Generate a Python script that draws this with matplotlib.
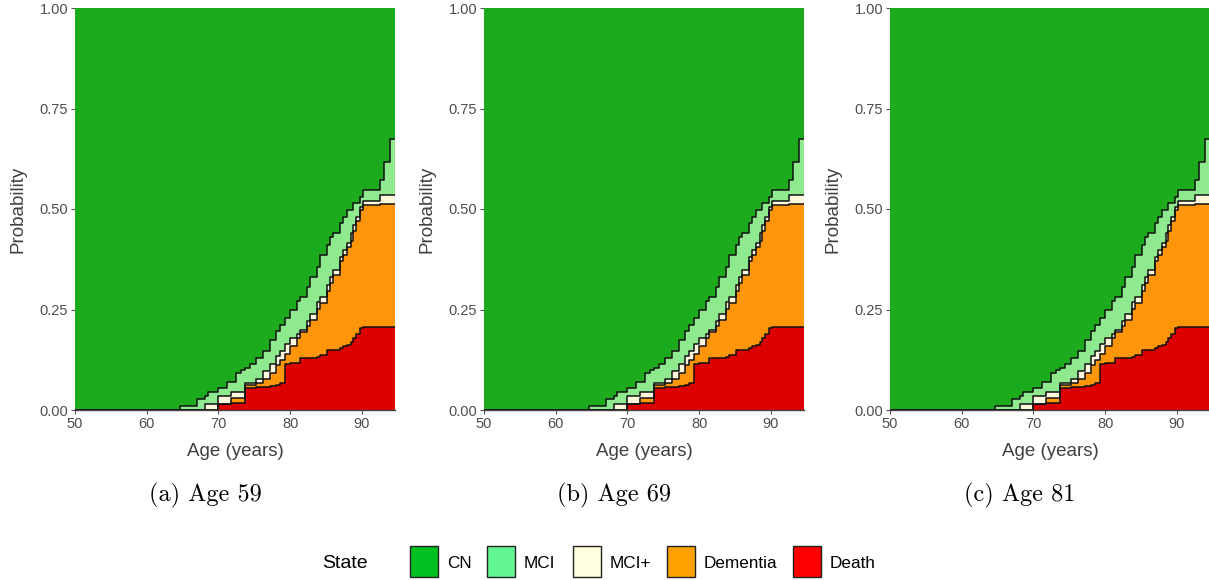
import matplotlib
matplotlib.use("Agg")
import matplotlib.pyplot as plt
from matplotlib.patches import Rectangle
import numpy as np

# Ages at which the state-occupancy curves change (step functions, "post")
age = [50.0, 64.6, 67.0, 68.1, 68.5, 70.0, 71.2, 71.8, 72.5, 73.2, 73.7, 74.4,
       75.2, 76.2, 77.2, 78.0, 78.6, 79.3, 80.0, 80.9, 81.4, 82.3, 82.8, 83.7,
       84.2, 85.1, 85.6, 86.0, 87.0, 87.4, 87.9, 88.4, 88.8, 89.1, 89.7, 90.2,
       92.5, 93.0, 93.9, 94.6]

# Cumulative probabilities, stacked from the most severe state upwards
p_death = [0, 0, 0, 0, 0, 0.014, 0.014, 0.017, 0.017, 0.017, 0.054, 0.055,
           0.056, 0.058, 0.060, 0.063, 0.066, 0.114, 0.116, 0.118, 0.129, 0.129, 0.130, 0.133,
           0.137, 0.149, 0.149, 0.149, 0.155, 0.158, 0.161, 0.170, 0.180, 0.190, 0.205, 0.207,
           0.207, 0.207, 0.207, 0.207]
p_dementia_or_worse = [0, 0, 0, 0, 0, 0.014, 0.014, 0.029, 0.029, 0.029, 0.062, 0.062,
                       0.068, 0.078, 0.092, 0.112, 0.125, 0.140, 0.158, 0.178, 0.195, 0.210, 0.225, 0.252,
                       0.266, 0.295, 0.315, 0.335, 0.370, 0.385, 0.405, 0.420, 0.445, 0.470, 0.498, 0.511,
                       0.512, 0.512, 0.512, 0.512]
p_mciplus_or_worse = [0, 0, 0, 0.015, 0.015, 0.034, 0.034, 0.046, 0.046, 0.046, 0.066, 0.066,
                      0.078, 0.098, 0.115, 0.135, 0.148, 0.165, 0.178, 0.190, 0.200, 0.222, 0.240, 0.268,
                      0.281, 0.310, 0.330, 0.348, 0.380, 0.398, 0.415, 0.440, 0.460, 0.480, 0.505, 0.520,
                      0.536, 0.536, 0.536, 0.536]
p_mci_or_worse = [0, 0.011, 0.027, 0.035, 0.046, 0.054, 0.070, 0.070, 0.091, 0.100, 0.104, 0.114,
                  0.130, 0.146, 0.174, 0.196, 0.212, 0.228, 0.249, 0.270, 0.282, 0.305, 0.330, 0.355,
                  0.386, 0.410, 0.431, 0.440, 0.464, 0.481, 0.498, 0.498, 0.514, 0.514, 0.531, 0.547,
                  0.572, 0.618, 0.675, 0.675]

states = ["CN", "MCI", "MCI+", "Dementia", "Death"]
fill_colors = {"CN": "#1cab1c", "MCI": "#8fe98f", "MCI+": "#fff8dc",
               "Dementia": "#ff9508", "Death": "#dd0000"}
key_colors = {"CN": "#00c122", "MCI": "#62f690", "MCI+": "#ffffe0",
              "Dementia": "#ffa200", "Death": "#ff0000"}

start_ages = [59, 69, 81]
panel_tags = ["(a)", "(b)", "(c)"]

W, H = 1209, 580
fig = plt.figure(figsize=(W / 100, H / 100), dpi=100)
fig.patch.set_facecolor("white")

sans = ["Liberation Sans", "DejaVu Sans"]


def fx(px):
    return px / W


def fy(py):
    return 1 - py / H


panel_left = [75, 484, 890]
panel_w, panel_top, panel_bottom = 320, 8, 410

x = np.array(age)
ones = np.ones_like(x)
layers = [
    ("Death", np.zeros_like(x), np.array(p_death)),
    ("Dementia", np.array(p_death), np.array(p_dementia_or_worse)),
    ("MCI+", np.array(p_dementia_or_worse), np.array(p_mciplus_or_worse)),
    ("MCI", np.array(p_mciplus_or_worse), np.array(p_mci_or_worse)),
    ("CN", np.array(p_mci_or_worse), ones),
]

for left, tag, start in zip(panel_left, panel_tags, start_ages):
    ax = fig.add_axes([fx(left), fy(panel_bottom), fx(panel_w),
                       (panel_bottom - panel_top) / H])
    for name, lo, hi in layers:
        ax.fill_between(x, lo, hi, step="post", color=fill_colors[name],
                        linewidth=0, zorder=1)
    for name, lo, hi in layers[:-1]:
        ax.step(x, hi, where="post", color="#111111", lw=1.1, zorder=2)
    ax.set_xlim(50, 94.6)
    ax.set_ylim(0, 1)
    ax.set_xticks([50, 60, 70, 80, 90])
    ax.set_yticks([0, 0.25, 0.5, 0.75, 1.0])
    ax.set_yticklabels(["0.00", "0.25", "0.50", "0.75", "1.00"])
    for s in ["top", "right", "left"]:
        ax.spines[s].set_visible(False)
    ax.spines["bottom"].set_color("#444444")
    ax.spines["bottom"].set_linewidth(1.0)
    ax.tick_params(axis="both", length=3, width=0.8, color="#555555",
                   labelcolor="#4d4d4d", labelsize=10.5, pad=2)
    for lbl in ax.get_xticklabels() + ax.get_yticklabels():
        lbl.set_fontfamily(sans)
    ax.set_xlabel("Age (years)", fontsize=13.5, color="#404040", family=sans,
                  labelpad=9)
    ax.set_ylabel("Probability", fontsize=13.5, color="#404040", family=sans,
                  labelpad=9)
    fig.text(fx(left + 130), fy(495), f"{tag} Age {start}", family="cmr10",
             fontsize=17.5, ha="center", va="center", color="black")

# Shared legend along the bottom
fig.text(fx(322), fy(563), "State", family=sans, fontsize=14,
         ha="left", va="center", color="black")
key_x = [410, 487, 573, 667, 793]
for name, kx in zip(states, key_x):
    fig.add_artist(Rectangle((fx(kx), fy(577)), fx(28), 31 / H,
                             transform=fig.transFigure,
                             facecolor=key_colors[name], edgecolor="#222222",
                             linewidth=1.0))
    fig.text(fx(kx + 37), fy(563), name, family=sans, fontsize=12.3,
             ha="left", va="center", color="black")

fig.savefig("out.png", dpi=100, facecolor="white")
